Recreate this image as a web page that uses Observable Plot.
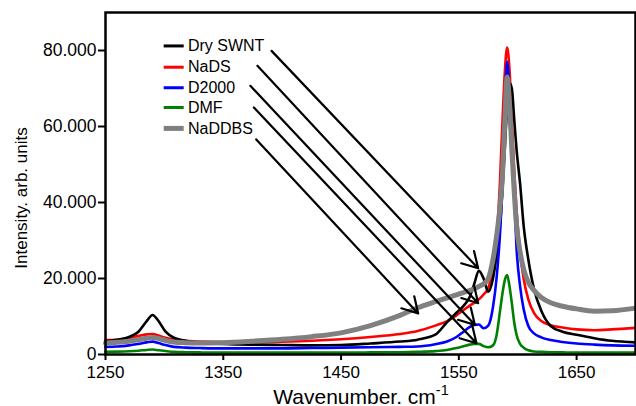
<!DOCTYPE html>
<html><head><meta charset="utf-8">
<script src="https://cdn.jsdelivr.net/npm/d3@7"></script>
<script src="https://cdn.jsdelivr.net/npm/@observablehq/plot@0.6"></script>
<style>
body{margin:0;background:#fff;}
#chart{width:636px;height:406px;overflow:hidden;}
svg text{font-family:"Liberation Sans", Arial, Helvetica, sans-serif;}
</style></head><body><div id="chart"></div>
<script>
// Raman shift (cm-1) sampling positions
const wavenumber = [1250,1260,1270,1278,1285,1290,1295,1301,1308,1318,1330,1350,1375,1400,1425,1450,1475,1500,1515,1530,1540,1548,1554,1559,1563,1567,1571,1575,1579,1582,1585,1587,1589,1591,1593,1595,1597,1599,1602,1605,1609,1614,1620,1628,1638,1650,1665,1680,1700];
// Intensities (arb. units)
const drySWNT = [3500,3900,4600,6000,8800,10400,8800,6000,4400,3600,3100,2800,2600,2500,2400,2500,2900,3400,3900,5200,8500,11000,12800,15000,18500,22000,20000,16500,20000,26000,34000,43000,54000,65000,71500,70000,62000,54000,45000,34000,25000,17000,11500,7500,6000,5200,4300,3600,3200];
const naDS = [3800,3900,4300,4900,5300,5400,5000,4400,3900,3600,3400,3300,3300,3400,3600,4000,4600,5400,6200,7600,8800,10300,11700,12800,13600,14500,15800,17500,23000,30000,46000,61000,74000,80800,75000,62000,48500,38000,27000,20000,14500,10800,8800,7700,7100,6600,6400,6600,7000];
const d2000 = [2000,2100,2400,2800,3200,3400,3000,2500,2000,1800,1700,1600,1600,1600,1700,1800,1900,2000,2100,2700,3400,4600,6000,7200,7800,7900,6900,7600,12500,20000,32000,45000,64000,77000,68000,55000,42000,28000,18000,12000,7500,5500,4500,3800,3300,2900,2600,2400,2300];
const dmf = [700,750,850,1000,1200,1300,1100,900,700,600,550,500,500,500,500,500,550,600,700,900,1200,1700,2200,2600,2800,2800,2200,1900,2400,5000,11500,16000,19500,20900,18000,13500,8500,5200,2800,1800,1100,800,700,600,550,500,500,500,500];
const naDDBS = [3000,3200,3500,3900,4300,4500,4200,3700,3300,3100,3000,3100,3500,4000,4700,5700,7600,10300,12300,13900,14900,15700,16300,16800,17300,17900,18600,20000,25000,31000,39000,47000,61000,73000,66000,54000,43000,34000,27000,22500,19000,16800,15000,13600,12700,12000,11400,11500,12200];

const seriesNames = ["Dry SWNT","NaDS","D2000","DMF","NaDDBS"];
const seriesValues = [drySWNT, naDS, d2000, dmf, naDDBS];
const seriesColors = ["#000000","#ff0000","#0000ff","#008000","#808080"];
const seriesWidths = [2.6,2.6,2.6,2.6,5];

const xTicks = [1250,1350,1450,1550,1650];
const yTicks = [0,20000,40000,60000,80000];

// Annotation arrows: from label to spectral feature (data coordinates)
const arrowFromX = [1391,1379,1373,1376,1378];
const arrowFromY = [79900,76000,70700,65000,56600];
const arrowToX = [1566.4,1566.4,1563.6,1565,1515.5];
const arrowToY = [22700,13500,7800,2950,10800];

// Legend placement (data coordinates)
const legendX1 = 1299.4, legendX2 = 1316.4, legendTextX = 1320;
const legendY = [81200,75600,70200,65000,59500];

const rows = seriesNames.map((name, s) => wavenumber.map((w, i) => ({w, v: seriesValues[s][i], name})));
const arrows = arrowFromX.map((x1, i) => ({x1, y1: arrowFromY[i], x2: arrowToX[i], y2: arrowToY[i]}));
const legend = seriesNames.map((name, i) => ({name, y: legendY[i], color: seriesColors[i], width: seriesWidths[i]}));

const fmt = d => d === 0 ? "0" : d3.format(",")(d).replace(/,/g, ".");

const lineOrder = [1,0,2,3,4];
const plot = Plot.plot({
  width: 636, height: 406,
  marginLeft: 105, marginRight: 1, marginTop: 12, marginBottom: 52,
  x: {domain: [1250, 1700]},
  y: {domain: [0, 90000]},
  style: {fontFamily: '"Liberation Sans", Arial, sans-serif', background: "#fff", color: "#000"},
  marks: [
    ...lineOrder.map(s => Plot.line(rows[s], {x: "w", y: "v", stroke: seriesColors[s], strokeWidth: seriesWidths[s], curve: "monotone-x", strokeLinejoin: "round"})),
    Plot.arrow(arrows, {x1: "x1", y1: "y1", x2: "x2", y2: "y2", stroke: "#000", strokeWidth: 2.2, headLength: 12, bend: 0}),
    Plot.link(legend, {x1: legendX1, x2: legendX2, y1: "y", y2: "y", stroke: "color", strokeWidth: d => d.width === 5 ? 5 : 3}),
    Plot.text(legend, {x: legendTextX, y: "y", text: "name", textAnchor: "start", fontSize: 16, fill: "#000"}),
    Plot.frame({stroke: "#000", strokeWidth: 2.5}),
    Plot.axisX({ticks: xTicks, tickSize: 6, tickPadding: 5, fontSize: 17, label: null, strokeWidth: 2, tickFormat: d => String(d)}),
    Plot.axisY({ticks: yTicks, tickSize: 7, tickPadding: 2, fontSize: 17.5, label: null, strokeWidth: 2, tickFormat: fmt})
  ]
});
document.getElementById("chart").appendChild(plot);

const svg = d3.select(plot);
const xl = svg.append("text")
  .attr("x", 361).attr("y", 403.5).attr("text-anchor", "middle")
  .attr("fill", "#000").style("font-size", "21px");
xl.append("tspan").text("Wavenumber. cm");
xl.append("tspan").attr("dy", -9).style("font-size", "14.5px").text("-1");
svg.append("text")
  .attr("transform", "translate(27,198) rotate(-90)")
  .attr("text-anchor", "middle").attr("fill", "#000")
  .style("font-size", "17px").text("Intensity. arb. units");
</script></body></html>
